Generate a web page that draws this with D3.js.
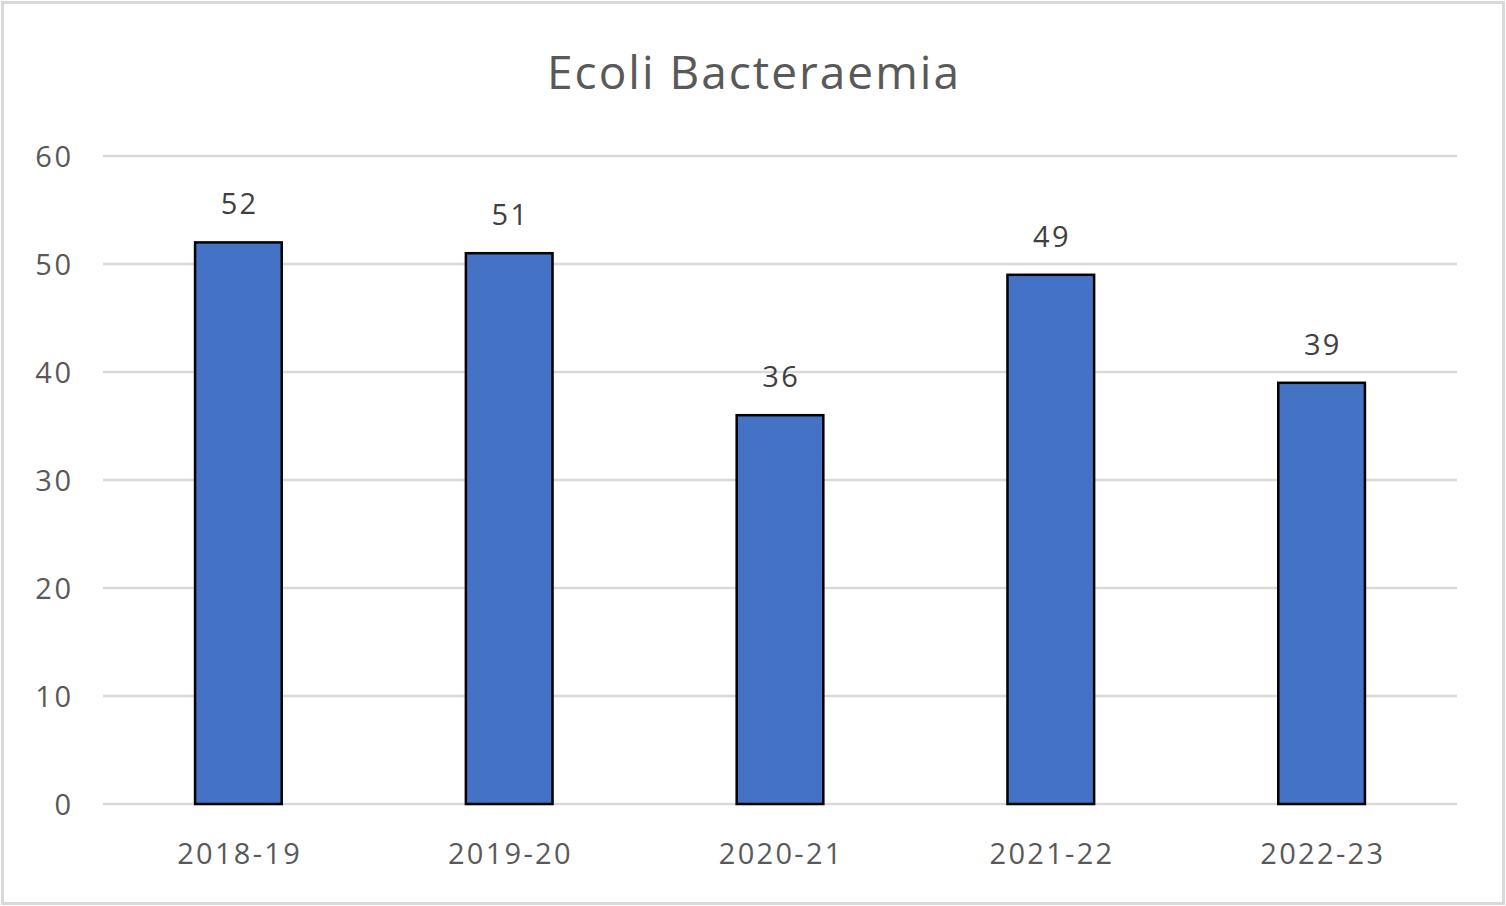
<!DOCTYPE html>
<html><head><meta charset="utf-8">
<script src="https://cdn.jsdelivr.net/npm/d3@7"></script>
<style>html,body{margin:0;padding:0;background:#fff;}svg{display:block;}</style>
</head><body>
<svg id="chart" width="1506" height="906"></svg>
<script>
const categories = ["2018-19","2019-20","2020-21","2021-22","2022-23"];
const values = [52,51,36,49,39];
const yTicks = [0,10,20,30,40,50,60];
const title = "Ecoli Bacteraemia";

const svg = d3.select("#chart");
const W = 1506, H = 906;
const font = "'Open Sans', 'Noto Sans', sans-serif";
const textColor = "#595959";

svg.append("rect").attr("x",2.5).attr("y",2.5).attr("width",W-5).attr("height",H-5)
  .attr("fill","#fff").attr("stroke","#d9d9d9").attr("stroke-width",3);

const plot = {left:103, right:1457, top:156, bottom:804};
const x = d3.scaleBand().domain(categories).range([plot.left, plot.right]).paddingInner(0.68).paddingOuter(0.34);
const y = d3.scaleLinear().domain([0,60]).range([plot.bottom, plot.top]);

// gridlines
svg.append("g").selectAll("line").data(yTicks).join("line")
  .attr("x1",plot.left).attr("x2",plot.right)
  .attr("y1",d=>y(d)).attr("y2",d=>y(d))
  .attr("stroke","#d9d9d9").attr("stroke-width",2.5);

// y axis labels
const yAxis = d3.axisLeft(y).tickValues(yTicks).tickSize(0).tickPadding(0);
const gy = svg.append("g").attr("transform",`translate(71,0)`).call(yAxis);
gy.select(".domain").remove();
gy.selectAll("text").attr("font-family",font).attr("font-size",29).attr("fill",textColor)
  .attr("dy","0.35em").attr("letter-spacing",2.5).attr("dx",2.5);

// x axis labels
const xAxis = d3.axisBottom(x).tickSize(0).tickPadding(0);
const gx = svg.append("g").attr("transform",`translate(0,${plot.bottom})`).call(xAxis);
gx.select(".domain").remove();
gx.selectAll("text").attr("font-family",font).attr("font-size",29).attr("fill",textColor)
  .attr("dy",null).attr("y",60).attr("letter-spacing",2.3).attr("dx",1.2);

// bars
svg.append("g").selectAll("rect").data(values).join("rect")
  .attr("x",(d,i)=>x(categories[i]))
  .attr("width",x.bandwidth())
  .attr("y",d=>y(d))
  .attr("height",d=>y(0)-y(d))
  .attr("fill","#4472C4").attr("stroke","#000").attr("stroke-width",2.5);

// value labels
svg.append("g").selectAll("text").data(values).join("text")
  .attr("x",(d,i)=>x(categories[i])+x.bandwidth()/2+1.2)
  .attr("y",d=>y(d)-28)
  .attr("text-anchor","middle")
  .attr("font-family",font).attr("font-size",29).attr("fill","#404040")
  .attr("letter-spacing",2.3)
  .text(d=>d);

// title
svg.append("text").attr("x",754).attr("y",89).attr("text-anchor","middle")
  .attr("font-family",font).attr("font-size",46).attr("fill",textColor)
  .attr("letter-spacing",2).text(title);
</script>
</body></html>
